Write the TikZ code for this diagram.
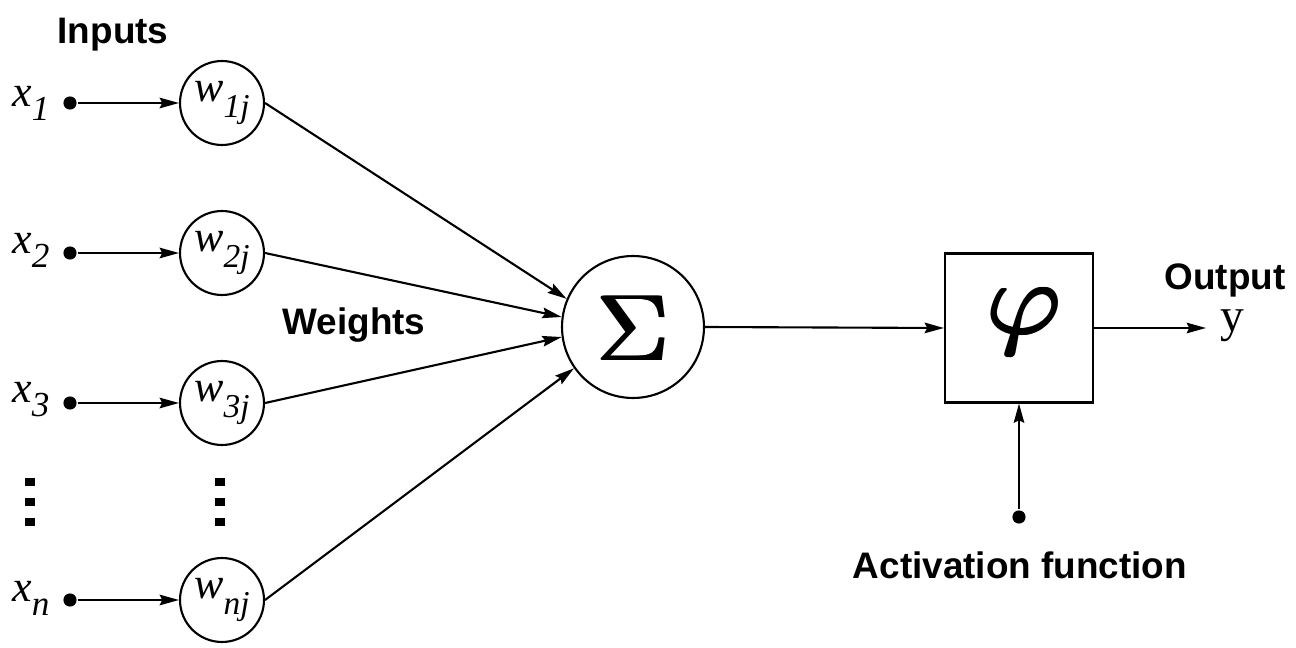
\documentclass[tikz,border=0pt]{standalone}
\usepackage{fontspec}
\setmainfont{Liberation Serif}
\newfontfamily\labsans{Liberation Sans}
\usetikzlibrary{arrows.meta}
\newcommand\inlab[2]{\fontsize{25}{25}\selectfont\textit{#1}\raisebox{-0.32em}{\fontsize{20}{20}\selectfont\textit{#2}}}
\newcommand\wlab[2]{\fontsize{25}{25}\selectfont\textit{#1}\raisebox{-0.35em}{\fontsize{19}{19}\selectfont\textit{#2}}}
\newcommand\hheavy[2]{\rlap{#2}\rlap{\kern#1 #2}\kern#1\kern#1 #2}
\begin{document}
\begin{tikzpicture}[x=0.02cm,y=-0.02cm,
  line width=1.2pt,
  arr/.style={-{Stealth[length=11pt,width=6pt,inset=1.5pt]}},
  wnode/.style={circle,draw,minimum size=1.68cm,inner sep=0pt},
  bold/.style={font=\labsans\bfseries\fontsize{21}{21}\selectfont},
  indot/.style={circle,fill,inner sep=0pt,minimum size=7.5pt},
  vdot/.style={rectangle,fill,inner sep=0pt,minimum width=5.5pt,minimum height=4.5pt}]
\useasboundingbox (0,0) rectangle (1296,648);
% labels
\node[bold] (inputs) at (113,35) {Inputs};
\node[bold] (weights) at (354,325) {Weights};
\node[bold] (output) at (1225,280) {Output};
\node[bold] (actlab) at (1020,565) {Activation function};
% inputs
\node (x1) at (31,103) {\inlab{x}{1}};
\node (x2) at (31,250) {\inlab{x}{2}};
\node (x3) at (31,400) {\inlab{x}{3}};
\node (xn) at (31,598) {\inlab{x}{n}};
\node[indot] (d1) at (70,103) {};
\node[indot] (d2) at (70,253) {};
\node[indot] (d3) at (70,403) {};
\node[indot] (dn) at (70,600) {};
% weights
\node[wnode] (w1) at (222,103) {\wlab{w}{1j}};
\node[wnode] (w2) at (222,253) {\wlab{w}{2j}};
\node[wnode] (w3) at (222,403) {\wlab{w}{3j}};
\node[wnode] (wn) at (222,600) {\wlab{w}{nj}};
% vertical dots
\foreach \yy in {482,502,522}{
  \node[vdot] at (30,\yy) {};
  \node[vdot] at (220,\yy) {};
}
% sum
\node[circle,draw,minimum size=2.84cm,inner sep=0pt] (sig) at (633,327) {};
\node (sigsym) at (633,328) {\scalebox{6.7}{\fontsize{8}{8}\selectfont\hheavy{0.12pt}{$\Sigma$}}};
% activation box
\node[draw,minimum width=2.96cm,minimum height=2.98cm,inner sep=0pt] (phi) at (1019,328) {};
\node (phisym) at (1024,322) {\scalebox{7.6}{\fontsize{8}{8}\selectfont\hheavy{0.15pt}{$\varphi$}}};
\node[indot] (adot) at (1019,517) {};
\node (yout) at (1232,326) {\fontsize{27}{27}\selectfont y};
\coordinate (yend) at (1206,328);
% connectors
\draw[arr] (d1) -- (w1);
\draw[arr] (d2) -- (w2);
\draw[arr] (d3) -- (w3);
\draw[arr] (dn) -- (wn);
\draw[arr] (w1.east) -- (sig.157);
\draw[arr] (w2.east) -- (sig.172);
\draw[arr] (w3.east) -- (sig.188);
\draw[arr] (wn.east) -- (sig.215);
\draw[arr] (sig.east) -- (phi.west);
\draw[arr] (phi.east) -- (yend);
\draw[arr] (adot) -- (phi.south);
\end{tikzpicture}
\end{document}
